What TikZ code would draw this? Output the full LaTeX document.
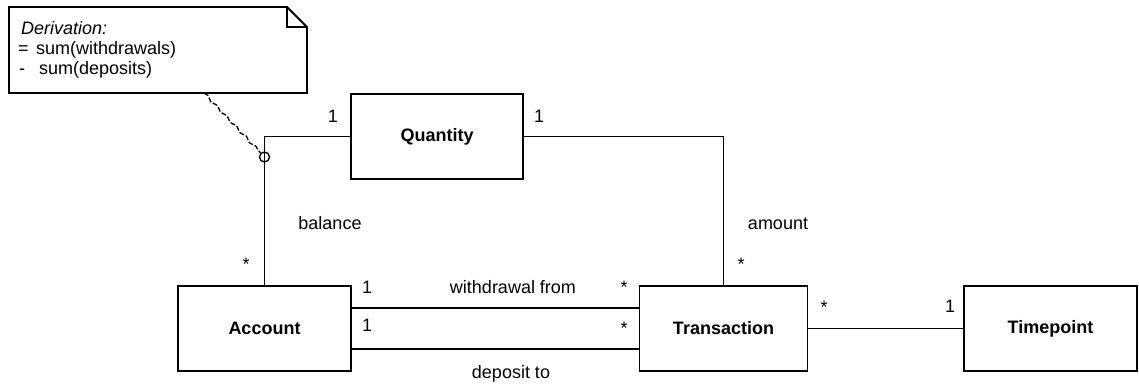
\documentclass[tikz,border=0pt]{standalone}
\usepackage{fontspec}
\setmainfont{Liberation Sans}
\usetikzlibrary{decorations.pathmorphing}
\begin{document}
\begin{tikzpicture}[x=1pt,y=-1pt,
  every node/.style={font=\fontsize{18}{21}\selectfont, inner sep=0pt},
  cls/.style={draw, line width=1.8pt, minimum width=173pt, minimum height=85pt, font=\fontsize{18}{21}\selectfont\bfseries},
  lbl/.style={anchor=base},
  ln/.style={line width=1.8pt},
  notetxt/.style={anchor=base west}
]
\useasboundingbox (0,0) rectangle (1139,385);
% note
\draw[ln, line join=miter] (9,7) -- (287,7) -- (307,27) -- (307,93) -- (9,93) -- cycle;
\draw[ln] (287,7) -- (287,27) -- (307,27);
\node[notetxt, font=\fontsize{18}{21}\selectfont\itshape] (t1) at (21,35) {Derivation:};
\node[notetxt] (t2) at (18,55) {\makebox[18pt][l]{=}sum(withdrawals)};
\node[notetxt] (t3) at (19,75) {\makebox[20pt][l]{-}sum(deposits)};
\coordinate (notebot) at (204,93);
% classes
\node[cls, minimum width=172pt] (qty) at (437,136.5) {Quantity};
\node[cls] (acc) at (264.5,328.5) {Account};
\node[cls, minimum width=168pt] (trn) at (723.5,328.5) {Transaction};
\node[cls] (tp) at (1050.5,328.5) {Timepoint};
% associations
\draw[ln] (qty.west) -| (acc.north);
\draw[ln] (qty.east) -| (trn.north);
\draw[ln] ([yshift=20.5pt]acc.east) -- ([yshift=20.5pt]trn.west);
\draw[ln] ([yshift=-20.5pt]acc.east) -- ([yshift=-20.5pt]trn.west);
\draw[ln] (trn.east) -- (tp.west);
% derivation anchor circle and dashed link
\node[draw, circle, line width=1.4pt, minimum size=10pt] (circ) at (264.5,157) {};
\draw[line width=1.3pt, dash pattern=on 5pt off 2pt, decorate,
      decoration={snake, amplitude=1.2pt, segment length=14pt}] (notebot) -- (circ);
% labels
\node[lbl] (l1) at (333,122) {1};
\node[lbl] (l2) at (539,122) {1};
\node[lbl] (bal) at (330,229) {balance};
\node[lbl] (s1) at (246,270) {*};
\node[lbl] (amt) at (778,229) {amount};
\node[lbl] (s2) at (741,270) {*};
\node[lbl] (l3) at (367,293) {1};
\node[lbl] (wf) at (513,293) {withdrawal from};
\node[lbl] (s3) at (624,293) {*};
\node[lbl] (l4) at (367,331) {1};
\node[lbl] (s4) at (624,334) {*};
\node[lbl] (dep) at (511,378) {deposit to};
\node[lbl] (s5) at (824,313) {*};
\node[lbl] (l5) at (950,312) {1};
\end{tikzpicture}
\end{document}
